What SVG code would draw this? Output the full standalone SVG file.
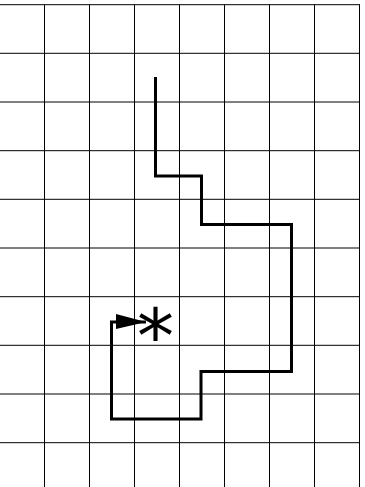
<svg xmlns="http://www.w3.org/2000/svg" width="365" height="487" viewBox="0 0 365 487">
<style>
.grid line{stroke:#000;stroke-width:1}
.route{fill:none;stroke:#000;stroke-width:3;stroke-linejoin:miter}
.star{font-family:"DejaVu Sans",sans-serif;font-size:74px;fill:#000}
</style>
<defs>
<marker id="arr" markerUnits="userSpaceOnUse" markerWidth="32" markerHeight="18" refX="30" refY="8" orient="auto">
<polygon points="0,0 30,8 0,15"/>
</marker>
</defs>
<rect width="365" height="487" fill="#fff"/>
<g class="grid" id="grid">
<line x1="44.5" y1="4.7" x2="44.5" y2="487"/>
<line x1="89.5" y1="4.7" x2="89.5" y2="487"/>
<line x1="134.5" y1="4.7" x2="134.5" y2="487"/>
<line x1="179.5" y1="4.7" x2="179.5" y2="487"/>
<line x1="224.5" y1="4.7" x2="224.5" y2="487"/>
<line x1="269.5" y1="4.7" x2="269.5" y2="487"/>
<line x1="314.5" y1="4.7" x2="314.5" y2="487"/>
<line x1="359.5" y1="4.7" x2="359.5" y2="487"/>
<line x1="0" y1="4.7" x2="360" y2="4.7"/>
<line x1="0" y1="53.3" x2="360" y2="53.3"/>
<line x1="0" y1="102" x2="360" y2="102"/>
<line x1="0" y1="150.7" x2="360" y2="150.7"/>
<line x1="0" y1="199.3" x2="360" y2="199.3"/>
<line x1="0" y1="248" x2="360" y2="248"/>
<line x1="0" y1="296.7" x2="360" y2="296.7"/>
<line x1="0" y1="345.3" x2="360" y2="345.3"/>
<line x1="0" y1="394" x2="360" y2="394"/>
<line x1="0" y1="442.7" x2="360" y2="442.7"/>
</g>
<g id="connectors">
<path class="route" d="M155.5,77 V176 H201.5 V224.5 H291.5 V371.5 H201 V419 H111.5 V322 H146" marker-end="url(#arr)"/>
</g>
<g id="goal">
<text class="star" x="155.5" y="362" text-anchor="middle">*</text>
</g>
</svg>
